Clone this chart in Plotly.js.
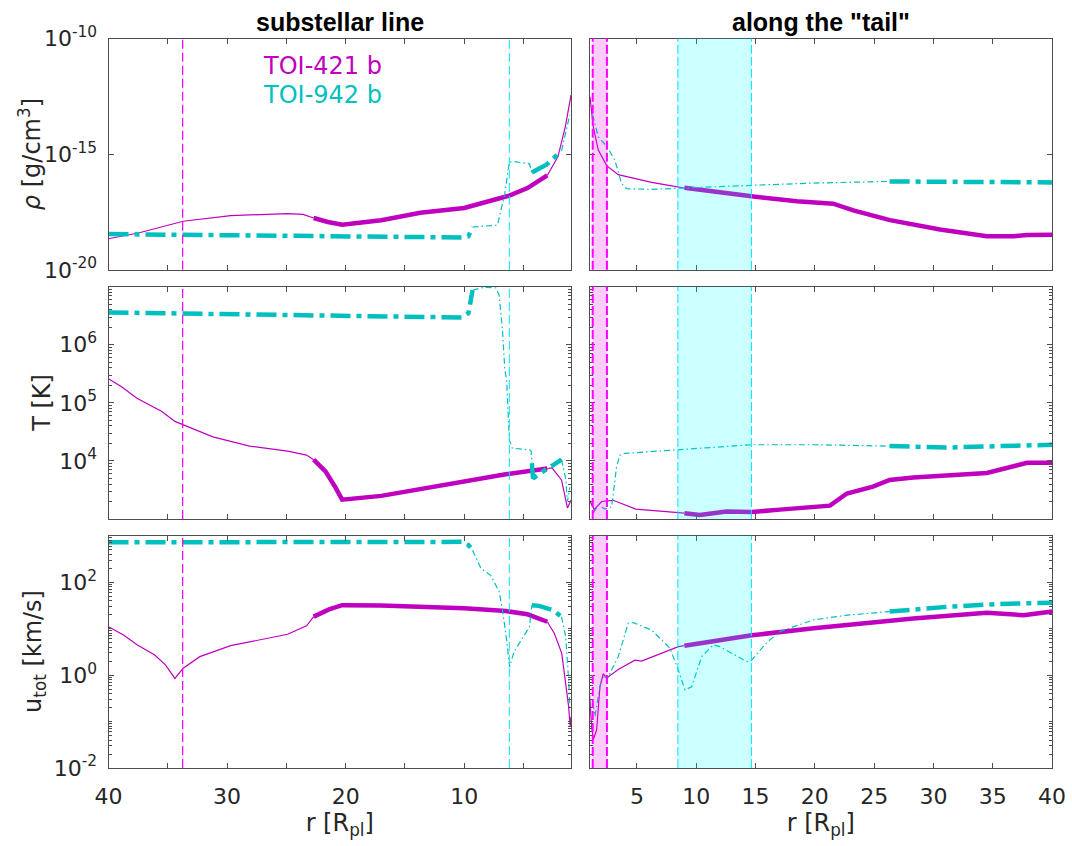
<!DOCTYPE html>
<html><head><meta charset="utf-8">
<script src="https://cdn.plot.ly/plotly-3.0.1.min.js"></script>
<style>html,body{margin:0;padding:0;background:#fff}#chart{width:1072px;height:846px}</style>
</head><body><div id="chart"></div>
<script>
// ---------------- DATA ----------------
// Substellar line, TOI-421 b
const sub421_r_rho = [40, 37.4, 33.7, 29.7, 24.9, 23.6, 22.7, 21.5, 20.3, 18.5, 17.0, 13.7, 10.0, 7.25, 6.2, 4.67, 4.0, 3.5, 3.0, 2.1, 1.47, 1.0];
const sub421_rho   = [2.2e-19, 4.0e-19, 1.26e-18, 2.2e-18, 2.7e-18, 2.5e-18, 1.74e-18, 1.17e-18, 8.9e-19, 1.12e-18, 1.38e-18, 2.9e-18, 4.7e-18, 1.15e-17, 1.6e-17, 3.4e-17, 5.6e-17, 7.9e-17, 1.2e-16, 7.9e-16, 1.6e-14, 3.6e-13];
const sub421_r_T = [40, 38.9, 37.6, 35.5, 34.4, 32.6, 31.2, 28.1, 24.9, 23.3, 22.7, 21.7, 20.9, 20.3, 17.0, 10.0, 6.5, 3.0, 2.6, 1.8, 1.3, 1.0];
const sub421_T   = [2.6e5, 1.9e5, 1.2e5, 7.1e4, 4.8e4, 3.4e4, 2.6e4, 1.8e4, 1.48e4, 1.26e4, 1.05e4, 6.6e3, 3.6e3, 2.15e3, 2.5e3, 4.4e3, 5.9e3, 7.4e3, 7.6e3, 4.7e3, 1.55e3, 2.1e3];
const sub421_r_u = [40, 38.7, 37.6, 36.1, 35.2, 34.4, 33.7, 32.3, 29.7, 26.5, 24.9, 23.3, 22.7, 21.4, 20.3, 17.0, 10.0, 6.5, 4.67, 3.0, 2.4, 1.78, 1.46, 1.2, 1.07, 1.0];
const sub421_u   = [11, 7.2, 4.5, 2.7, 1.66, 0.85, 1.41, 2.5, 4.3, 6.2, 7.6, 11.5, 18.2, 26, 32, 31.6, 27.5, 24, 20.4, 14.1, 7.9, 2.95, 0.79, 0.21, 0.078, 0.126];

// Substellar line, TOI-942 b
const sub942_r_rho = [40, 30, 20, 10.2, 9.65, 9.3, 7.2, 6.58, 6.2, 5.8, 4.5, 4.3, 3.07, 1.8, 1.3, 1.1];
const sub942_rho   = [3.5e-19, 3.2e-19, 2.8e-19, 2.5e-19, 2.8e-19, 7.1e-19, 8.5e-19, 2.0e-17, 4.6e-16, 4.8e-16, 3.8e-16, 1.6e-16, 3.5e-16, 1.4e-15, 2.1e-14, 5.0e-14];
const sub942_r_T = [40, 30, 20, 10.2, 9.65, 9.3, 8.33, 7.34, 7.06, 6.78, 6.58, 6.43, 6.2, 5.95, 4.5, 4.35, 4.3, 4.2, 3.5, 2.7, 1.8, 1.45, 1.3, 1.1];
const sub942_T   = [3.6e6, 3.4e6, 3.2e6, 2.95e6, 3.5e6, 8.7e6, 9.8e6, 9.5e6, 7.2e6, 1.8e6, 3.7e5, 2.5e5, 2.3e4, 1.66e4, 1.55e4, 1.45e4, 9.1e3, 5.0e3, 6.3e3, 7.9e3, 1.05e4, 5.0e3, 2.0e3, 3.5e3];
const sub942_r_u = [40, 20, 10.2, 9.65, 9.3, 8.6, 7.77, 7.06, 6.78, 6.5, 6.17, 5.8, 5.0, 4.5, 4.3, 3.7, 2.5, 1.8, 1.45, 1.2, 1.1];
const sub942_u   = [724, 741, 741, 631, 490, 200, 141, 63, 25, 7.9, 1.5, 3.2, 6.8, 11, 32, 31, 25, 18, 6.8, 0.79, 0.21];

// Along the tail, TOI-421 b
const tail421_r_rho = [1.04, 1.32, 1.74, 2.45, 3.42, 6.24, 8.77, 9.0, 12.0, 14.67, 18.47, 21.55, 23.24, 26.33, 30.55, 34.49, 36.73, 37.9, 40];
const tail421_rho   = [3.0e-13, 1.5e-14, 1.5e-15, 3.2e-16, 1.3e-16, 6.0e-17, 3.6e-17, 3.5e-17, 2.2e-17, 1.5e-17, 9.1e-18, 7.2e-18, 3.7e-18, 1.4e-18, 5.5e-19, 2.8e-19, 2.8e-19, 3.2e-19, 3.3e-19];
const tail421_r_T = [1.0, 1.4, 2.02, 3.0, 4.9, 8.6, 9.0, 10.3, 12.55, 14.67, 17.05, 21.27, 22.7, 24.9, 26.3, 28.3, 34.5, 37.9, 40];
const tail421_T   = [2.1e3, 1.45e3, 2.0e3, 2.1e3, 1.48e3, 1.26e3, 1.26e3, 1.17e3, 1.35e3, 1.32e3, 1.45e3, 1.7e3, 2.75e3, 3.6e3, 4.7e3, 5.2e3, 6.2e3, 9.3e3, 9.3e3];
const tail421_r_u = [1.0, 1.18, 1.32, 1.6, 1.88, 2.16, 2.45, 3.42, 4.83, 5.39, 8.49, 9.0, 14.67, 19.9, 24.1, 28.3, 34.5, 37.6, 40];
const tail421_u   = [0.41, 0.078, 0.041, 0.066, 0.56, 1.07, 0.87, 1.32, 2.1, 2.0, 4.1, 4.3, 7.2, 10.2, 13.2, 16.6, 21.9, 19.5, 23.4];

// Along the tail, TOI-942 b
const tail942_r_rho = [1.27, 1.74, 2.45, 3.14, 3.7, 4.13, 6.24, 8.63, 14.67, 19.87, 26.3, 31.1, 40];
const tail942_rho   = [5.0e-14, 5.6e-15, 2.2e-15, 5.5e-16, 5.4e-17, 3.2e-17, 3.0e-17, 3.3e-17, 4.5e-17, 5.6e-17, 6.6e-17, 6.6e-17, 6.0e-17];
const tail942_r_T = [1.32, 1.74, 2.3, 2.87, 3.28, 3.56, 3.98, 6.24, 8.49, 14.67, 19.9, 26.3, 31.1, 40];
const tail942_T   = [1.26e3, 1.74e3, 1.48e3, 1.62e3, 7.9e3, 1.26e4, 1.35e4, 1.45e4, 1.55e4, 1.9e4, 1.9e4, 1.8e4, 1.7e4, 1.9e4];
const tail942_r_u = [1.27, 1.46, 1.74, 2.02, 2.3, 2.52, 3.42, 4.27, 4.69, 6.24, 7.78, 8.49, 9.05, 9.61, 10.46, 11.43, 12.0, 14.25, 14.67, 15.9, 17.05, 19.9, 22.7, 26.3, 31.1, 35.3, 40];
const tail942_u   = [0.25, 0.13, 0.35, 0.85, 0.93, 0.85, 2.5, 13.2, 13.5, 9.3, 3.8, 1.29, 0.48, 0.56, 2.5, 4.5, 4.1, 1.95, 2.1, 4.9, 8.7, 15.5, 19.5, 23.4, 29.5, 33.9, 36.3];

// Radial ranges drawn with thick lines
const thick421Sub = [[3.0, 22.7]];
const thick942Sub = [[9.3, 40], [1.8, 4.3]];
const thick421Tail = [[9.0, 40]];
const thick942Tail = [[26.3, 40]];

// Marked radii / regions
const subLine421 = 33.75;
const subLine942 = 6.2;
const tailBand421 = [1.27, 2.47];
const tailBand942 = [8.45, 14.65];

// Labels
const planetNames = ['TOI-421 b', 'TOI-942 b'];
const panelTitles = ['substellar line', 'along the "tail"'];
const yTitles = ['<i>ρ</i> [g/cm<sup>3</sup>]', 'T [K]', 'u<sub>tot</sub> [km/s]'];
const xTitle = 'r [R<sub>pl</sub>]';
const leftXTicks = [40, 30, 20, 10];
const leftXMinor = [35, 25, 15, 5];
const rightXTicks = [5, 10, 15, 20, 25, 30, 35, 40];
const rhoTicks = [1e-20, 1e-15, 1e-10];
const rhoText = ['10<sup>-20</sup>', '10<sup>-15</sup>', '10<sup>-10</sup>'];
const TTicks = [1e4, 1e5, 1e6];
const TText = ['10<sup>4</sup>', '10<sup>5</sup>', '10<sup>6</sup>'];
const uTicks = [1e-2, 1e0, 1e2];
const uText = ['10<sup>-2</sup>', '10<sup>0</sup>', '10<sup>2</sup>'];

// ---------------- STYLE ----------------
const C421 = '#bf00bf', C942 = '#00bfbf';
const AX = '#4d4d4d';
const TXT = '#262626';
const FONT = 'DejaVu Sans, Verdana, sans-serif';

function split(r, v, ranges) {
  const inT = r.map(x => ranges.some(([a, b]) => x >= a - 1e-9 && x <= b + 1e-9));
  const thick = v.map((y, i) => inT[i] ? y : null);
  const thin = v.map((y, i) => (!inT[i] || (i > 0 && !inT[i - 1]) || (i < v.length - 1 && !inT[i + 1])) ? y : null);
  return {thick, thin};
}

const traces = [];
function addPlanet(r, v, ranges, color, dashed, xa, ya, name) {
  const s = split(r, v, ranges);
  traces.push({x: r, y: s.thin, xaxis: xa, yaxis: ya, mode: 'lines', name: name, showlegend: false,
    connectgaps: false, hoverinfo: 'skip',
    line: {color: color, width: 1.2, dash: dashed ? '6px,3px,1.5px,3px' : 'solid'}});
  traces.push({x: r, y: s.thick, xaxis: xa, yaxis: ya, mode: 'lines', name: name, showlegend: false,
    connectgaps: false, hoverinfo: 'skip',
    line: {color: color, width: 4.5, dash: dashed ? '20px,6px,5px,6px' : 'solid'}});
}

addPlanet(sub421_r_rho, sub421_rho, thick421Sub, C421, false, 'x', 'y', planetNames[0]);
addPlanet(sub942_r_rho, sub942_rho, thick942Sub, C942, true, 'x', 'y', planetNames[1]);
addPlanet(tail421_r_rho, tail421_rho, thick421Tail, C421, false, 'x2', 'y2', planetNames[0]);
addPlanet(tail942_r_rho, tail942_rho, thick942Tail, C942, true, 'x2', 'y2', planetNames[1]);
addPlanet(sub421_r_T, sub421_T, thick421Sub, C421, false, 'x3', 'y3', planetNames[0]);
addPlanet(sub942_r_T, sub942_T, thick942Sub, C942, true, 'x3', 'y3', planetNames[1]);
addPlanet(tail421_r_T, tail421_T, thick421Tail, C421, false, 'x4', 'y4', planetNames[0]);
addPlanet(tail942_r_T, tail942_T, thick942Tail, C942, true, 'x4', 'y4', planetNames[1]);
addPlanet(sub421_r_u, sub421_u, thick421Sub, C421, false, 'x5', 'y5', planetNames[0]);
addPlanet(sub942_r_u, sub942_u, thick942Sub, C942, true, 'x5', 'y5', planetNames[1]);
addPlanet(tail421_r_u, tail421_u, thick421Tail, C421, false, 'x6', 'y6', planetNames[0]);
addPlanet(tail942_r_u, tail942_u, thick942Tail, C942, true, 'x6', 'y6', planetNames[1]);

// geometry (paper fractions)
const W = 1072, H = 846;
const colL = [108.5 / W, 571 / W];
const colR = [589.5 / W, 1052.1 / W];
const rowsPx = [[38.5, 269.8], [286.7, 519], [535.8, 768]];
const rows = rowsPx.map(([t, b]) => [1 - b / H, 1 - t / H]);

function minorVals(lo, hi, extraDecades) {
  const out = [];
  for (let e = lo; e < hi; e++) for (let m = 2; m <= 9; m++) out.push(m * Math.pow(10, e));
  return out.concat(extraDecades || []);
}

const baseAx = {showline: true, mirror: 'ticks', linecolor: AX, linewidth: 1, ticks: 'inside', ticklen: 5,
  tickcolor: AX, tickwidth: 1, showgrid: false, zeroline: false, automargin: false,
  tickfont: {family: FONT, size: 22, color: TXT}};

function xAx(col, row, showLabels) {
  const left = col === 0;
  const n = row * 2 + col + 1;
  const a = Object.assign({}, baseAx, {
    domain: left ? colL : colR,
    anchor: 'y' + (n === 1 ? '' : n),
    range: left ? [40, 1] : [1, 40],
    tickmode: 'array',
    tickvals: left ? leftXTicks : rightXTicks,
    ticktext: (left ? leftXTicks : rightXTicks).map(String),
    showticklabels: showLabels,
    ticklabelstandoff: 9
  });
  if (left) a.minor = {tickmode: 'array', tickvals: leftXMinor, ticks: 'inside', ticklen: 5, tickcolor: AX, tickwidth: 1};
  if (showLabels) a.title = {text: xTitle, font: {family: FONT, size: 24, color: TXT}, standoff: 2};
  return a;
}
function yAx(col, row) {
  const n = row * 2 + col + 1;
  const a = Object.assign({}, baseAx, {
    domain: rows[row],
    anchor: 'x' + (n === 1 ? '' : n),
    type: 'log',
    tickmode: 'array',
    showticklabels: col === 0,
    ticklabelstandoff: 6
  });
  if (row === 0) { a.range = [-20, -10]; a.tickvals = rhoTicks; a.ticktext = rhoText; }
  if (row === 1) { a.range = [3, 7]; a.tickvals = TTicks; a.ticktext = TText;
    a.minor = {tickmode: 'array', tickvals: minorVals(3, 7), ticks: 'inside', ticklen: 3, tickcolor: AX, tickwidth: 1}; }
  if (row === 2) { a.range = [-2, 3]; a.tickvals = uTicks; a.ticktext = uText;
    a.minor = {tickmode: 'array', tickvals: minorVals(-2, 3, [1e-1, 1e1]), ticks: 'inside', ticklen: 3, tickcolor: AX, tickwidth: 1}; }
  return a;
}

const layout = {
  width: W, height: H, margin: {l: 0, r: 0, t: 0, b: 0},
  paper_bgcolor: '#ffffff', plot_bgcolor: '#ffffff', showlegend: false,
  font: {family: FONT, color: TXT},
  shapes: [], annotations: []
};
for (let row = 0; row < 3; row++) {
  for (let col = 0; col < 2; col++) {
    const n = row * 2 + col + 1;
    const s = n === 1 ? '' : n;
    layout['xaxis' + s] = xAx(col, row, row === 2);
    layout['yaxis' + s] = yAx(col, row);
    const yd = 'y' + s + ' domain';
    const xr = 'x' + s;
    if (col === 0) {
      layout.shapes.push({type: 'line', xref: xr, yref: yd, x0: subLine421, x1: subLine421, y0: 0, y1: 1,
        line: {color: '#ff00ff', width: 1.3, dash: '9px,4px'}, layer: 'above'});
      layout.shapes.push({type: 'line', xref: xr, yref: yd, x0: subLine942, x1: subLine942, y0: 0, y1: 1,
        line: {color: '#00e6ff', width: 1, dash: '9px,4px'}, layer: 'above'});
    } else {
      layout.shapes.push({type: 'rect', xref: xr, yref: yd, x0: tailBand421[0], x1: tailBand421[1], y0: 0, y1: 1,
        fillcolor: 'rgba(255,0,255,0.2)', line: {width: 0}, layer: 'above'});
      layout.shapes.push({type: 'rect', xref: xr, yref: yd, x0: tailBand942[0], x1: tailBand942[1], y0: 0, y1: 1,
        fillcolor: 'rgba(0,255,255,0.2)', line: {width: 0}, layer: 'above'});
      tailBand421.forEach(v => layout.shapes.push({type: 'line', xref: xr, yref: yd, x0: v, x1: v, y0: 0, y1: 1,
        line: {color: '#ff00ff', width: 2, dash: '9px,3px'}, layer: 'above'}));
      tailBand942.forEach(v => layout.shapes.push({type: 'line', xref: xr, yref: yd, x0: v, x1: v, y0: 0, y1: 1,
        line: {color: '#00e6ff', width: 1, dash: '9px,3px'}, layer: 'above'}));
    }
  }
}

// y-axis titles (rotated), placed beside the tick labels
const yTitleX = [30, 42, 35];
yTitles.forEach((t, i) => {
  const mid = (rowsPx[i][0] + rowsPx[i][1]) / 2;
  layout.annotations.push({text: t, xref: 'paper', yref: 'paper', x: yTitleX[i] / W, y: 1 - mid / H,
    xanchor: 'center', yanchor: 'middle', textangle: -90, showarrow: false,
    font: {family: FONT, size: 24, color: TXT}});
});

layout.annotations.push({text: '<b>' + panelTitles[0] + '</b>', xref: 'paper', yref: 'paper',
  x: (colL[0] + colL[1]) / 2, y: 1 - 22 / H, xanchor: 'center', yanchor: 'middle', showarrow: false,
  font: {family: 'Liberation Sans, Arial, sans-serif', size: 25, color: '#000'}});
layout.annotations.push({text: '<b>' + panelTitles[1] + '</b>', xref: 'paper', yref: 'paper',
  x: (colR[0] + colR[1]) / 2, y: 1 - 22 / H, xanchor: 'center', yanchor: 'middle', showarrow: false,
  font: {family: 'Liberation Sans, Arial, sans-serif', size: 25, color: '#000'}});
layout.annotations.push({text: planetNames[0], xref: 'paper', yref: 'paper', x: 322 / W, y: 1 - 66 / H,
  xanchor: 'center', yanchor: 'middle', showarrow: false, font: {family: FONT, size: 24, color: C421}});
layout.annotations.push({text: planetNames[1], xref: 'paper', yref: 'paper', x: 322 / W, y: 1 - 95 / H,
  xanchor: 'center', yanchor: 'middle', showarrow: false, font: {family: FONT, size: 24, color: C942}});

Plotly.newPlot('chart', traces, layout, {staticPlot: true, displayModeBar: false});
</script></body></html>
